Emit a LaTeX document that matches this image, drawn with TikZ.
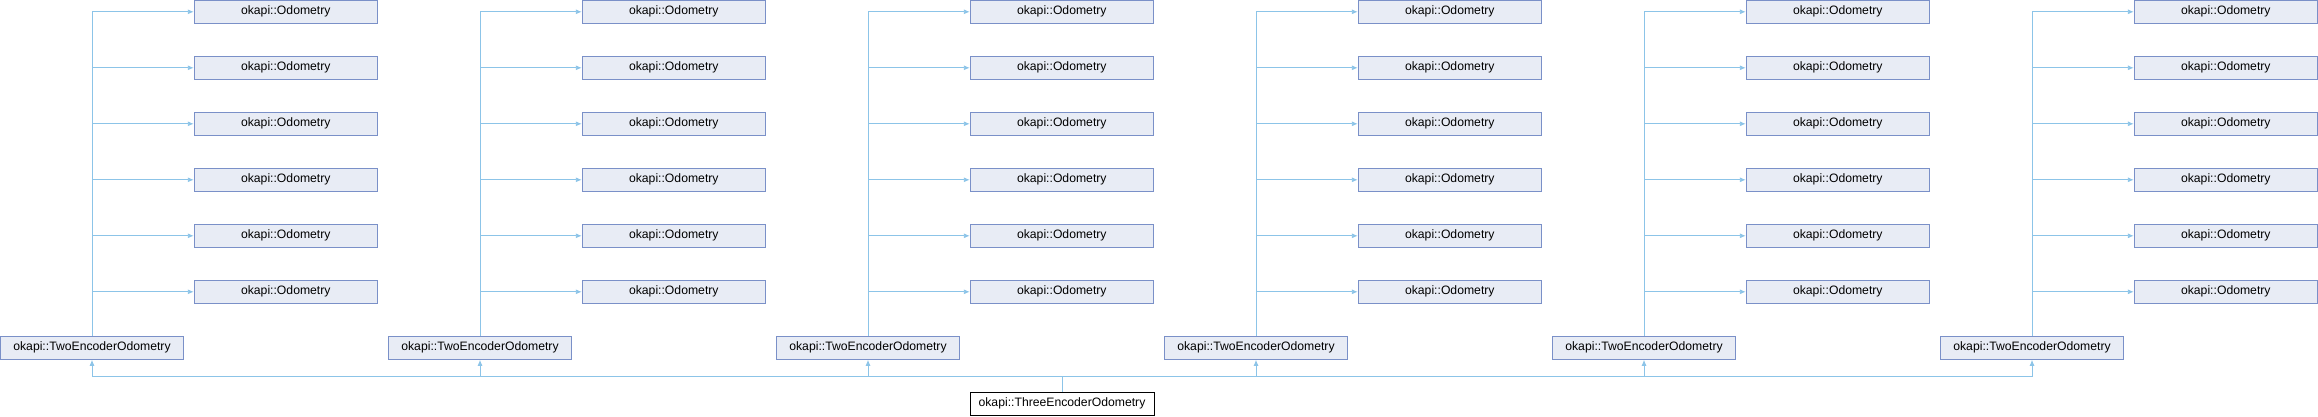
\documentclass[tikz,border=0pt]{standalone}
\usepackage{fontspec}
\setmainfont{Liberation Sans}
\usetikzlibrary{arrows.meta}
\definecolor{edgeblue}{HTML}{8CC4E8}
\definecolor{boxfill}{HTML}{E8ECF5}
\definecolor{boxline}{HTML}{7A90C8}
\tikzset{
  odobox/.style={draw=boxline, fill=boxfill, line width=1pt, minimum width=183pt, minimum height=23pt, inner sep=0pt, font=\fontsize{12.2}{14}\selectfont, text=black},
  twobox/.style={odobox},
  threebox/.style={draw=black, fill=white, line width=1pt, minimum width=184pt, minimum height=23pt, inner sep=0pt, font=\fontsize{12.2}{14}\selectfont, text=black},
  edge/.style={draw=edgeblue, line width=0.9pt, -{Latex[length=6pt,width=5pt]}},
  busline/.style={draw=edgeblue, line width=0.9pt}
}
\begin{document}
\begin{tikzpicture}[x=1pt,y=-1pt]
\useasboundingbox (0,0) rectangle (2318,416);
\node[threebox] (three) at (1062,403.8) {okapi::ThreeEncoderOdometry};
\coordinate (bus) at (0,376);
\foreach \k in {0,...,5} {
  \node[twobox] (two\k) at ({388*\k+92},347.8) {okapi::TwoEncoderOdometry};
  \foreach \j in {0,...,5} {
    \node[odobox] (odo\k\j) at ({388*\k+285.8},{56*\j+11.8}) {okapi::Odometry};
    \draw[edge] (two\k.north) |- (odo\k\j.west);
  }
  \draw[edge] (three.north) -- (three.north |- bus) -| (two\k.south);
}
\end{tikzpicture}
\end{document}
